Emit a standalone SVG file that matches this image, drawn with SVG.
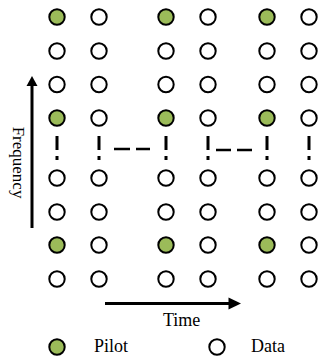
<svg xmlns="http://www.w3.org/2000/svg" width="320" height="356" viewBox="0 0 320 356">
<defs>
<style>
.d{fill:#ffffff;stroke:#000;stroke-width:2}
.p{fill:#9BBB59;stroke:#000;stroke-width:2}
.dash{stroke:#000;stroke-width:3;fill:none}
.hd{stroke:#000;stroke-width:2.5;fill:none}
.ax{stroke:#000;stroke-width:3;fill:none}
.t{font-family:"Liberation Serif","Times New Roman",serif;font-size:17px;fill:#000}
.l{font-size:18px}
</style>
<circle id="dc" r="7.7" class="d"/>
<circle id="pc" r="7.7" class="p"/>
</defs>
<g id="grid">
<g id="row1"><use href="#pc" x="57" y="17"/><use href="#dc" x="99" y="17"/><use href="#pc" x="166" y="17"/><use href="#dc" x="208" y="17"/><use href="#pc" x="267" y="17"/><use href="#dc" x="309" y="17"/></g>
<g id="row2"><use href="#dc" x="57" y="51"/><use href="#dc" x="99" y="51"/><use href="#dc" x="166" y="51"/><use href="#dc" x="208" y="51"/><use href="#dc" x="267" y="51"/><use href="#dc" x="309" y="51"/></g>
<g id="row3"><use href="#dc" x="57" y="84.5"/><use href="#dc" x="99" y="84.5"/><use href="#dc" x="166" y="84.5"/><use href="#dc" x="208" y="84.5"/><use href="#dc" x="267" y="84.5"/><use href="#dc" x="309" y="84.5"/></g>
<g id="row4"><use href="#pc" x="57" y="118"/><use href="#dc" x="99" y="118"/><use href="#pc" x="166" y="118"/><use href="#dc" x="208" y="118"/><use href="#pc" x="267" y="118"/><use href="#dc" x="309" y="118"/></g>
<g id="row5"><use href="#dc" x="57" y="178"/><use href="#dc" x="99" y="178"/><use href="#dc" x="166" y="178"/><use href="#dc" x="208" y="178"/><use href="#dc" x="267" y="178"/><use href="#dc" x="309" y="178"/></g>
<g id="row6"><use href="#dc" x="57" y="212"/><use href="#dc" x="99" y="212"/><use href="#dc" x="166" y="212"/><use href="#dc" x="208" y="212"/><use href="#dc" x="267" y="212"/><use href="#dc" x="309" y="212"/></g>
<g id="row7"><use href="#pc" x="57" y="245"/><use href="#dc" x="99" y="245"/><use href="#pc" x="166" y="245"/><use href="#dc" x="208" y="245"/><use href="#pc" x="267" y="245"/><use href="#dc" x="309" y="245"/></g>
<g id="row8"><use href="#dc" x="57" y="279"/><use href="#dc" x="99" y="279"/><use href="#dc" x="166" y="279"/><use href="#dc" x="208" y="279"/><use href="#dc" x="267" y="279"/><use href="#dc" x="309" y="279"/></g>
</g>
<g id="connectors">
<path class="dash" d="M57 136V150M57 156V160M99 136V150M99 156V160M166 136V150M166 156V160M208 136V150M208 156V160M267 136V150M267 156V160M309 136V150M309 156V160"/>
<path class="hd" d="M114 149H130M136 149H150M216 150H231M237 150H252"/>
<line class="ax" x1="32" y1="228" x2="32" y2="84"/>
<polygon points="32,76 26.5,86 37.5,86" fill="#000"/>
<line class="ax" x1="105" y1="303.5" x2="230" y2="303.5"/>
<polygon points="241,303.5 228.5,297.5 228.5,309.5" fill="#000"/>
</g>
<g id="labels">
<text class="t" transform="translate(13,162.5) rotate(90)" text-anchor="middle">Frequency</text>
<text class="t l" x="163" y="326">Time</text>
</g>
<g id="legend">
<g id="legend-pilot"><use href="#pc" x="57" y="347"/><text class="t l" x="94" y="352">Pilot</text></g>
<g id="legend-data"><use href="#dc" x="217" y="347"/><text class="t l" x="251" y="352">Data</text></g>
</g>
</svg>
